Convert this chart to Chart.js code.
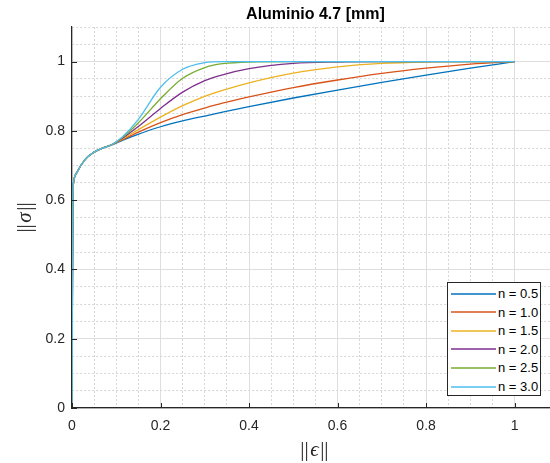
<!DOCTYPE html>
<html>
<head>
<meta charset="utf-8">
<script src="https://cdn.jsdelivr.net/npm/chart.js@4/dist/chart.umd.min.js"></script>
<style>
  html, body { margin: 0; padding: 0; background: #fff; overflow: hidden; }
  #wrap { position: relative; width: 550px; height: 463px; }
  #legend { position: absolute; left: 447px; top: 282px; width: 94px; height: 114px;
    border: 1px solid #262626; background: #fff; box-sizing: border-box;
    font-family: "Liberation Sans", Arial, sans-serif; font-size: 13px; color: #000; }
  .row { position: absolute; left: 3px; height: 18px; display: flex; align-items: center; }
  .sw { width: 45px; height: 0; border-top: 2px solid; margin-right: 2px; opacity: 0.75; }
</style>
</head>
<body>
<div id="wrap">
  <canvas id="c" width="550" height="463" style="width:550px;height:463px"></canvas>
  <div id="legend"></div>
</div>
<script>
// ---- data ----
const chartTitle = "Aluminio 4.7 [mm]";
const seriesLabels = ["n = 0.5", "n = 1.0", "n = 1.5", "n = 2.0", "n = 2.5", "n = 3.0"];
const seriesColors = ["#0072BD", "#D95319", "#EDB120", "#7E2F8E", "#77AC30", "#4DBEEE"];
const xTickLabels = ["0", "0.2", "0.4", "0.6", "0.8", "1"];
const yTickLabels = ["0", "0.2", "0.4", "0.6", "0.8", "1"];

const strain = [0, 0.001, 0.002, 0.004, 0.011, 0.03, 0.049, 0.068, 0.0865,
                0.113, 0.149, 0.2, 0.25, 0.3, 0.34, 0.4, 0.5, 0.6, 0.7, 0.8, 0.9, 1.0];
const sigmaHead = [0, 0.35, 0.6, 0.655, 0.680, 0.718, 0.738, 0.750, 0.758];
const sigmaN05 = [0.772, 0.790, 0.812, 0.829, 0.843, 0.854, 0.870, 0.895, 0.918, 0.940, 0.961, 0.981, 1.0];
const sigmaN10 = [0.774, 0.796, 0.824, 0.847, 0.866, 0.880, 0.898, 0.925, 0.947, 0.966, 0.981, 0.993, 1.0];
const sigmaN15 = [0.776, 0.803, 0.840, 0.873, 0.900, 0.917, 0.939, 0.967, 0.985, 0.995, 0.999, 1.0, 1.0];
const sigmaN20 = [0.778, 0.812, 0.865, 0.912, 0.945, 0.962, 0.980, 0.995, 0.999, 1.0, 1.0, 1.0, 1.0];
const sigmaN25 = [0.780, 0.822, 0.893, 0.952, 0.983, 0.994, 0.999, 1.0, 1.0, 1.0, 1.0, 1.0, 1.0];
const sigmaN30 = [0.782, 0.832, 0.926, 0.978, 0.997, 1.0, 1.0, 1.0, 1.0, 1.0, 1.0, 1.0, 1.0];
const sigmaTails = [sigmaN05, sigmaN10, sigmaN15, sigmaN20, sigmaN25, sigmaN30];

// ---- build ----
const isMajor = v => Math.abs(v / 0.2 - Math.round(v / 0.2)) < 1e-6;
const isGrid = v => Math.abs(v / 0.05 - Math.round(v / 0.05)) < 1e-6;
const labelFor = (v, labels) => {
  if (!isMajor(v)) return '';
  const idx = Math.round(v / 0.2);
  return labels[idx] !== undefined ? labels[idx] : '';
};

const datasets = seriesLabels.map((lab, i) => {
  const ys = sigmaHead.concat(sigmaTails[i]);
  return {
    label: lab,
    data: strain.map((x, k) => ({ x: x, y: ys[k] })),
    borderColor: seriesColors[i],
    backgroundColor: seriesColors[i],
    borderWidth: 1.3,
    pointRadius: 0,
    fill: false,
    cubicInterpolationMode: 'monotone',
    order: seriesLabels.length - 1 - i
  };
});

const gridColor = ctx => (ctx.tick && isMajor(ctx.tick.value)) ? '#dedede' : '#d6d6d6';
const gridDash = ctx => (ctx.tick && !isMajor(ctx.tick.value)) ? [2, 2] : [];

const textPlugin = {
  id: 'texts',
  afterDraw(chart) {
    const c = chart.ctx;
    const a = chart.chartArea;
    const xs = chart.scales.x, ys = chart.scales.y;
    // inward major tick marks
    c.save();
    c.strokeStyle = '#262626';
    c.lineWidth = 1;
    xs.ticks.forEach(t => {
      if (!isMajor(t.value)) return;
      const px = Math.round(xs.getPixelForValue(t.value)) + 0.5;
      c.beginPath(); c.moveTo(px, a.bottom); c.lineTo(px, a.bottom - 5); c.stroke();
    });
    ys.ticks.forEach(t => {
      if (!isMajor(t.value)) return;
      const py = Math.round(ys.getPixelForValue(t.value)) + 0.5;
      c.beginPath(); c.moveTo(a.left, py); c.lineTo(a.left + 5, py); c.stroke();
    });
    c.restore();

    // title, centred on the axes box (x limits 0..1.1)
    c.save();
    c.fillStyle = '#000';
    c.font = 'bold 16px "Liberation Sans", Arial, sans-serif';
    c.textAlign = 'center';
    c.textBaseline = 'alphabetic';
    const midX = xs.getPixelForValue(0.55);
    c.fillText(chartTitle, midX, 19);
    c.restore();

    // axis labels with mixed styles
    const drawMixed = (parts, cx, cy, rot) => {
      c.save();
      c.translate(cx, cy);
      if (rot) c.rotate(rot);
      c.fillStyle = '#262626';
      c.textBaseline = 'middle';
      c.textAlign = 'left';
      const widths = parts.map(p => { c.font = p.font; return c.measureText(p.t).width + (p.gap || 0); });
      const total = widths.reduce((s, w) => s + w, 0);
      let x = -total / 2;
      parts.forEach((p, i) => { c.font = p.font; c.fillText(p.t, x + (p.gap || 0) / 2, 0); x += widths[i]; });
      c.restore();
    };
    const nf = '21px "Liberation Serif", "DejaVu Serif", serif';
    const itf = 'italic 21px "Liberation Serif", "DejaVu Serif", serif';
    drawMixed([{ t: '||', font: nf, gap: 1 }, { t: 'σ', font: itf, gap: 2 }, { t: '||', font: nf, gap: 1 }], 25, (a.top + a.bottom) / 2, -Math.PI / 2);
    drawMixed([{ t: '||', font: nf, gap: 1 }, { t: 'ϵ', font: itf, gap: 2 }, { t: '||', font: nf, gap: 1 }], midX - 1, 450, 0);
  }
};

const tickFont = { family: '"Liberation Sans", Arial, sans-serif', size: 14 };
const keepGridTicks = s => { s.ticks = s.ticks.filter(t => isGrid(t.value)); };

new Chart(document.getElementById('c'), {
  type: 'line',
  data: { datasets: datasets },
  options: {
    responsive: false,
    animation: false,
    layout: { padding: { top: 27, right: 0, left: 0, bottom: 0 } },
    plugins: { legend: { display: false }, title: { display: false }, tooltip: { enabled: false } },
    scales: {
      x: {
        type: 'linear', min: 0, max: 1.08,
        afterBuildTicks: keepGridTicks,
        afterFit: s => { s.height = 55; },
        ticks: { stepSize: 0.05, autoSkip: false, maxRotation: 0, padding: 10, color: '#262626', font: tickFont,
                 callback: v => labelFor(v, xTickLabels) },
        grid: { color: gridColor, lineWidth: 1, drawTicks: false },
        border: { display: true, color: '#262626', width: 1.2, dash: gridDash }
      },
      y: {
        type: 'linear', min: 0, max: 1.1,
        afterBuildTicks: keepGridTicks,
        afterFit: s => { s.width = 72; },
        ticks: { stepSize: 0.05, autoSkip: false, padding: 7, color: '#262626', font: tickFont,
                 callback: v => labelFor(v, yTickLabels) },
        grid: { color: gridColor, lineWidth: 1, drawTicks: false },
        border: { display: true, color: '#262626', width: 1.2, dash: gridDash }
      }
    }
  },
  plugins: [textPlugin]
});

// HTML legend
const leg = document.getElementById('legend');
seriesLabels.forEach((lab, i) => {
  const r = document.createElement('div');
  r.className = 'row';
  r.style.top = (1.5 + i * 18.6) + 'px';
  const sw = document.createElement('span');
  sw.className = 'sw';
  sw.style.borderTopColor = seriesColors[i];
  const tx = document.createElement('span');
  tx.textContent = lab;
  r.appendChild(sw); r.appendChild(tx);
  leg.appendChild(r);
});
</script>
</body>
</html>
